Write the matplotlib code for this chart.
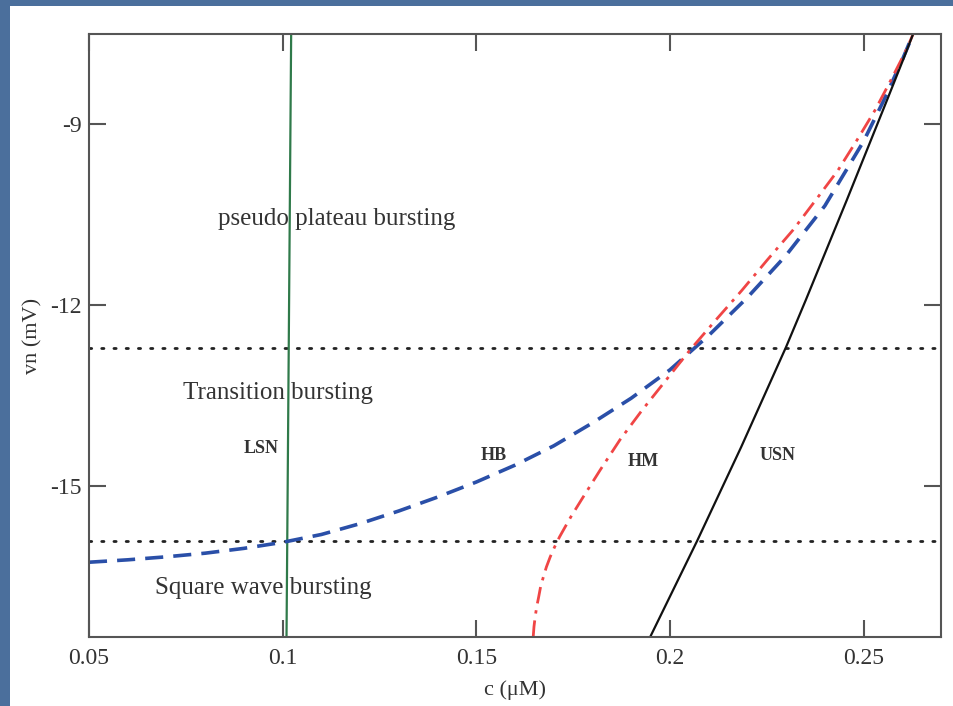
import numpy as np
import matplotlib.pyplot as plt
from matplotlib.patches import Rectangle

plt.rcParams['axes.unicode_minus'] = False

# Bifurcation curves in the (c, vn) plane
lsn_c = [0.1010, 0.1022]
lsn_vn = [-17.5, -7.5]

hb_c = [0.050, 0.060, 0.070, 0.080, 0.090, 0.100, 0.110, 0.120, 0.130, 0.140,
        0.150, 0.160, 0.170, 0.180, 0.190, 0.200, 0.210, 0.220, 0.230, 0.240,
        0.250, 0.255, 0.260, 0.2628]
hb_vn = [-16.26, -16.22, -16.17, -16.11, -16.03, -15.93, -15.80, -15.62, -15.41, -15.18,
         -14.93, -14.65, -14.33, -13.95, -13.54, -13.07, -12.50, -11.87, -11.17, -10.35,
         -9.28, -8.63, -7.93, -7.50]

hm_c = [0.1647, 0.1649, 0.1652, 0.1656, 0.1661, 0.1666, 0.1673, 0.1681, 0.1691, 0.1702,
        0.1715, 0.1729, 0.1744, 0.1771, 0.1820, 0.1871, 0.1928, 0.1990, 0.2052, 0.2119,
        0.2186, 0.2251, 0.2318, 0.2377, 0.2434, 0.2483, 0.2530, 0.2571, 0.2610, 0.2628]
hm_vn = [-17.50, -17.33, -17.17, -17.00, -16.84, -16.67, -16.51, -16.34, -16.17, -16.01,
         -15.84, -15.68, -15.51, -15.23, -14.73, -14.23, -13.74, -13.24, -12.74, -12.24,
         -11.75, -11.25, -10.75, -10.25, -9.76, -9.26, -8.76, -8.26, -7.77, -7.50]

usn_c = [0.1949, 0.2070, 0.2184, 0.2300, 0.2351, 0.2404, 0.2457, 0.2509, 0.2561, 0.2602, 0.2628]
usn_vn = [-17.50, -15.91, -14.35, -12.69, -11.91, -11.08, -10.25, -9.42, -8.59, -7.93, -7.50]

# Boundaries between bursting regimes
boundary_vn = [-12.71, -15.91]

xticks = [0.05, 0.1, 0.15, 0.2, 0.25]
xticklabels = ['0.05', '0.1', '0.15', '0.2', '0.25']
yticks = [-9, -12, -15]

serif = ['Liberation Serif', 'DejaVu Serif']

fig = plt.figure(figsize=(9.54, 7.06), dpi=100)
fig.patch.set_facecolor('#4b6f9c')
fig.patches.append(Rectangle((10 / 954, 0), 1, 1 - 6 / 706, transform=fig.transFigure,
                             facecolor='white', edgecolor='none', zorder=-10))

ax = fig.add_axes([89 / 954, 1 - 637 / 706, 852 / 954, 603 / 706])
ax.set_zorder(5)
ax.set_facecolor('white')

for v in boundary_vn:
    ax.axhline(v, color='#222222', lw=2, linestyle=(0, (0.8, 3.6)), dash_capstyle='round')

ax.plot(lsn_c, lsn_vn, color='#2f7a4a', lw=1.6)
ax.plot(hb_c, hb_vn, color='#2a4fa8', lw=2.6, linestyle=(0, (5, 2.8)))
ax.plot(hm_c, hm_vn, color='#f04545', lw=2.0, linestyle=(0, (6, 2.5, 1.2, 2.5)))
ax.plot(usn_c, usn_vn, color='#111111', lw=1.6)

ax.set_xlim(0.05, 0.27)
ax.set_ylim(-17.5, -7.5)
ax.set_xticks(xticks)
ax.set_xticklabels(xticklabels)
ax.set_yticks(yticks)

for s in ax.spines.values():
    s.set_color('#555555')
    s.set_linewidth(1.5)
ax.tick_params(direction='in', length=12, width=1.5, color='#555555',
               top=True, right=True, labelsize=17, labelcolor='#333333')
ax.tick_params(axis='x', pad=8)
ax.tick_params(axis='y', pad=5)
for lab in ax.get_xticklabels() + ax.get_yticklabels():
    lab.set_family(serif)

ax.set_xlabel('c (μM)', fontsize=16, family=serif, color='#333333', labelpad=8)
ax.set_ylabel('vn (mV)', fontsize=16, family=serif, color='#333333', labelpad=6)

region_kw = dict(fontsize=18, family=serif, color='#333333', va='center')
ax.text(0.0833, -10.57, 'pseudo plateau bursting', **region_kw)
ax.text(0.0743, -13.46, 'Transition bursting', **region_kw)
ax.text(0.0671, -16.68, 'Square wave bursting', **region_kw)

curve_kw = dict(fontsize=13, family=serif, fontweight='bold', color='#333333',
                ha='center', va='center')
ax.text(0.0945, -14.38, 'LSN', **curve_kw)
ax.text(0.1544, -14.49, 'HB', **curve_kw)
ax.text(0.1932, -14.59, 'HM', **curve_kw)
ax.text(0.2278, -14.49, 'USN', **curve_kw)

fig.savefig('out.png', dpi=100, facecolor=fig.get_facecolor())
